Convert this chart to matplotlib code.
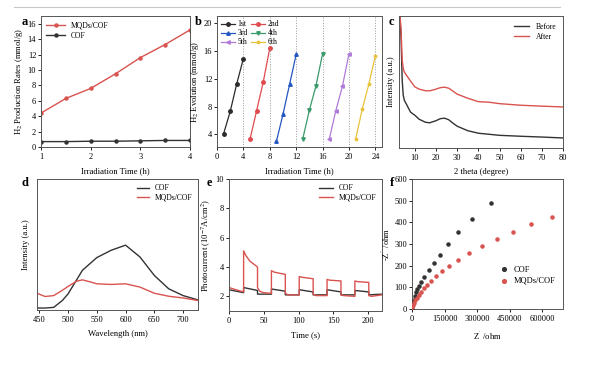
import matplotlib
matplotlib.use("Agg")
import matplotlib.pyplot as plt
from matplotlib.lines import Line2D

plt.rcParams["font.family"] = ["Liberation Serif", "DejaVu Serif"]
plt.rcParams["mathtext.fontset"] = "stix"
plt.rcParams["font.size"] = 6
plt.rcParams["axes.linewidth"] = 0.7
plt.rcParams["axes.edgecolor"] = "#555555"
plt.rcParams["xtick.major.size"] = 2
plt.rcParams["ytick.major.size"] = 2
plt.rcParams["xtick.major.width"] = 0.6
plt.rcParams["ytick.major.width"] = 0.6
plt.rcParams["xtick.major.pad"] = 2
plt.rcParams["ytick.major.pad"] = 1.5

RED = "#d9534f"
DARK = "#333333"
LAB = 6.2

# (a) H2 production rates
a_time = [1, 1.5, 2, 2.5, 3, 3.5, 4]
a_mqd = [4.4, 6.3, 7.6, 9.5, 11.6, 13.3, 15.2]
a_cof = [0.7, 0.7, 0.75, 0.75, 0.8, 0.85, 0.85]

# (b) cycling test
b_times = [[1, 2, 3, 4], [5, 6, 7, 8], [9, 10, 11, 12],
           [13, 14, 15, 16], [17, 18, 19, 20], [21, 22, 23, 24]]
b_vals = [[4.1, 7.3, 11.3, 14.9], [3.3, 7.4, 11.5, 16.4], [3.0, 6.9, 11.2, 15.5],
          [3.4, 7.5, 11.0, 15.6], [3.3, 7.4, 10.9, 15.6], [3.3, 7.6, 11.2, 15.3]]
b_names = ["1st", "2nd", "3rd", "4th", "5th", "6th"]
b_colors = ["#2b2b2b", "#e04a4f", "#2456c0", "#3a9a6a", "#b07ad8", "#e8c23a"]
b_markers = ["o", "o", "^", "v", "<", "*"]

# (c) XRD before / after
c_theta = [3, 3.5, 4, 4.5, 5, 6, 7, 8, 10, 12, 15, 17, 20, 22, 24, 26, 28, 30,
           35, 40, 45, 50, 60, 70, 80]
c_before = [100, 81.8, 51.4, 40, 36.2, 33.2, 30.1, 27.1, 24.8, 21.8, 19.5, 19.1,
            20.7, 22.2, 22.6, 21.4, 18.8, 16.5, 13.1, 11.2, 10.4, 9.6, 8.9, 8.3, 7.6]
c_after = [100, 89, 66.6, 60.5, 57.5, 55.2, 52.9, 50.6, 46.3, 44.6, 43.4, 43.3,
           44.6, 45.7, 46.1, 45.3, 43.1, 40.8, 37.7, 35.1, 34.7, 33.6, 32.4, 31.7, 31.1]

# (d) PL spectra
d_wl_cof = [446, 460, 475, 490, 500, 525, 550, 575, 600, 625, 650, 675, 700, 726]
d_cof = [1.5, 1.5, 2, 7.2, 12.3, 30.3, 40, 45.6, 49.5, 40.5, 26.4, 16.2, 11, 7.7]
d_wl_mqd = [446, 460, 475, 490, 500, 515, 525, 540, 550, 575, 600, 625, 650, 675, 700, 726]
d_mqd = [12.8, 10.3, 11, 15, 18, 22, 23, 21.3, 20, 19.5, 20, 17.5, 12.8, 10.5, 9.2, 7.2]

# (e) transient photocurrent
e_t_mqd = [0, 10, 21, 21, 24, 30, 41, 41, 44, 50, 61, 61, 65, 75, 81, 81, 85, 101,
           101, 105, 121, 121, 125, 141, 141, 145, 161, 161, 165, 181, 181, 185,
           201, 201, 205, 220]
e_mqd = [2.6, 2.45, 2.3, 5.1, 4.8, 4.4, 4.0, 2.6, 2.35, 2.25, 2.2, 3.75, 3.65, 3.55,
         3.5, 2.2, 2.1, 2.1, 3.35, 3.3, 3.2, 2.15, 2.05, 2.05, 3.15, 3.1, 3.05, 2.1,
         2.05, 2.0, 3.05, 3.0, 2.95, 2.05, 2.0, 2.1]
e_t_cof = [0, 21, 21, 41, 41, 61, 61, 81, 81, 101, 101, 121, 121, 141, 141, 161,
           161, 181, 181, 201, 201, 220]
e_cof = [2.45, 2.25, 2.6, 2.4, 2.15, 2.15, 2.5, 2.35, 2.1, 2.1, 2.45, 2.3, 2.1, 2.1,
         2.45, 2.3, 2.1, 2.1, 2.4, 2.3, 2.1, 2.15]

# (f) EIS Nyquist
f_cof_x = [361600, 274700, 213600, 164800, 126600, 99200, 76300, 56500, 41200,
           30500, 22900, 16800, 12200, 7600, 4600, 1500, 0]
f_cof_y = [489, 417, 354, 298, 251, 211, 178, 148, 125, 108, 92, 77, 62, 43, 28, 12, 2]
f_mqd_x = [643900, 549300, 465400, 389100, 320400, 264000, 213600, 172400, 137300,
           109900, 87000, 68700, 53400, 41200, 30500, 22900, 15300, 9200, 4600, 1500]
f_mqd_y = [426, 392, 355, 323, 289, 258, 228, 200, 177, 151, 129, 111, 95, 80, 66,
           52, 40, 28, 17, 8]

W, H = 600, 366
fig = plt.figure(figsize=(6.0, 3.66), dpi=100)


def box(l, r, t, b):
    return [l / W, 1 - b / H, (r - l) / W, (b - t) / H]


def letter(x, y, s):
    fig.text(x / W, 1 - y / H, s, fontsize=9, fontweight="bold", va="center", ha="center")


fig.add_artist(Line2D([14 / W, 560 / W], [1 - 7 / H, 1 - 7 / H], color="#c8c8c8", lw=0.8))

# panel a
ax = fig.add_axes(box(41, 190, 16, 147))
ax.plot(a_time, a_mqd, color=RED, marker="o", ms=2.2, lw=1, label="MQDs/COF")
ax.plot(a_time, a_cof, color=DARK, marker="o", ms=2.2, lw=1, label="COF")
ax.set_xlim(1, 4)
ax.set_ylim(0, 17)
ax.set_xticks([1, 2, 3, 4])
ax.set_yticks(range(0, 17, 2))
ax.set_xlabel("Irradiation Time (h)", fontsize=LAB, labelpad=5)
ax.set_ylabel("H$_2$ Production Rates (mmol/g)", fontsize=LAB, labelpad=2)
ax.legend(loc="upper left", frameon=False, fontsize=5.5, handlelength=2.4,
          borderaxespad=0.3, labelspacing=0.3)
letter(25, 22, "a")

# panel b
ax = fig.add_axes(box(217, 382, 16, 147))
for x in [4, 8, 12, 16, 20, 24]:
    ax.axvline(x, color="#999999", ls=":", lw=0.7)
lines = []
for t, v, n, c, m in zip(b_times, b_vals, b_names, b_colors, b_markers):
    ln, = ax.plot(t, v, color=c, marker=m, ms=2.5, lw=0.9, label=n)
    lines.append(ln)
ax.set_xlim(0, 25)
ax.set_ylim(2.2, 21)
ax.set_xticks(range(0, 25, 4))
ax.set_yticks([4, 8, 12, 16, 20])
ax.set_xlabel("Irradiation Time (h)", fontsize=LAB, labelpad=5)
ax.set_ylabel("H$_2$ Evolution (mmol/g)", fontsize=LAB, labelpad=2)
order = [0, 2, 4, 1, 3, 5]
ax.legend([lines[i] for i in order], [b_names[i] for i in order],
          loc="upper left", ncol=2, frameon=False, fontsize=5.5, handlelength=1.8,
          borderaxespad=0.15, labelspacing=0.15, columnspacing=0.5, handletextpad=0.3)
letter(198, 22, "b")

# panel c
ax = fig.add_axes(box(399, 563, 16, 148))
ax.plot(c_theta, c_before, color=DARK, lw=1, label="Before")
ax.plot(c_theta, c_after, color=RED, lw=1, label="After")
ax.set_xlim(2.5, 80)
ax.set_ylim(0, 100)
ax.set_xticks(range(10, 81, 10))
ax.set_yticks([])
ax.set_xlabel("2 theta (degree)", fontsize=LAB, labelpad=5)
ax.set_ylabel("Intensity (a.u.)", fontsize=LAB, labelpad=3)
ax.legend(loc="upper right", frameon=False, fontsize=5.5, handlelength=2,
          labelspacing=0.3)
letter(391, 22, "c")

# panel d
ax = fig.add_axes(box(37, 198, 179, 310))
ax.plot(d_wl_cof, d_cof, color=DARK, lw=1, label="COF")
ax.plot(d_wl_mqd, d_mqd, color=RED, lw=1, label="MQDs/COF")
ax.set_xlim(446, 726)
ax.set_ylim(0, 100)
ax.set_xticks(range(450, 701, 50))
ax.set_yticks([])
ax.set_xlabel("Wavelength (nm)", fontsize=LAB, labelpad=5)
ax.set_ylabel("Intensity (a.u.)", fontsize=LAB, labelpad=5)
ax.legend(loc="upper right", frameon=False, fontsize=5.5, handlelength=1.5,
          labelspacing=0.2, borderaxespad=0.3)
letter(25, 183, "d")

# panel e
ax = fig.add_axes(box(229, 382, 179, 311))
ax.plot(e_t_cof, e_cof, color=DARK, lw=1, label="COF")
ax.plot(e_t_mqd, e_mqd, color=RED, lw=1, label="MQDs/COF")
ax.set_xlim(0, 220)
ax.set_ylim(1, 10)
ax.set_xticks(range(0, 201, 50))
ax.set_yticks([2, 4, 6, 8, 10])
ax.set_xlabel("Time (s)", fontsize=LAB, labelpad=5)
ax.set_ylabel("Photocurrent (10$^{-7}$A/cm$^2$)", fontsize=LAB, labelpad=2)
ax.legend(loc="upper right", frameon=False, fontsize=5.5, handlelength=1.8,
          labelspacing=0.2, borderaxespad=0.3)
letter(209, 183, "e")

# panel f
ax = fig.add_axes(box(412, 563, 179, 309))
ax.scatter(f_cof_x, f_cof_y, s=5, color=DARK, label="COF", zorder=3)
ax.scatter(f_mqd_x, f_mqd_y, s=5, color=RED, label="MQDs/COF", zorder=3)
ax.set_xlim(0, 695000)
ax.set_ylim(0, 600)
ax.set_xticks([0, 150000, 300000, 450000, 600000])
ax.set_xticklabels(["0", "150000", "300000", "450000", "600000"])
ax.set_yticks(range(0, 601, 100))
ax.set_xlabel("Z$^{'}$ /ohm", fontsize=LAB, labelpad=5)
ax.set_ylabel("-Z$^{''}$ /ohm", fontsize=LAB, labelpad=2)
ax.legend(loc="center right", bbox_to_anchor=(1.0, 0.26), frameon=False,
          fontsize=6, handletextpad=0.2, labelspacing=0.4, markerscale=1.2)
letter(392, 183, "f")

fig.savefig("out.png", dpi=100)
